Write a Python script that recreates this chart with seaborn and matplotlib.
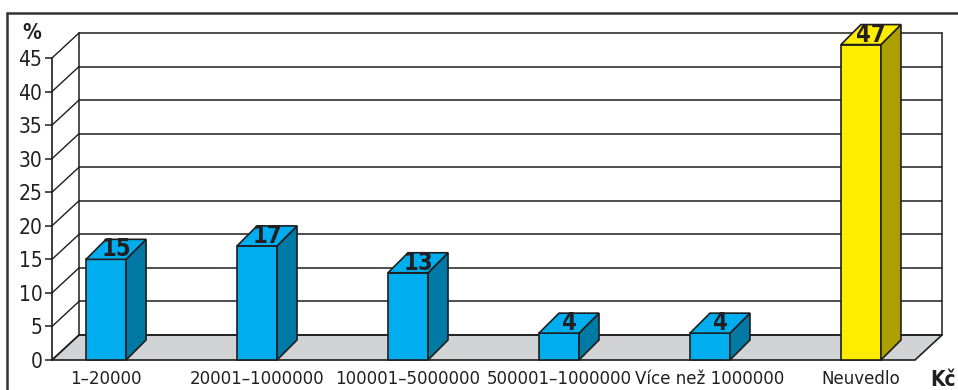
import matplotlib
matplotlib.use("Agg")
import matplotlib.pyplot as plt
from matplotlib import font_manager
import seaborn as sns
import pandas as pd
from matplotlib.transforms import ScaledTranslation
from matplotlib.patches import Polygon
from matplotlib.lines import Line2D

# Income brackets (Kč) and share of respondents (%)
categories = ["1–20000", "20001–1000000", "100001–5000000",
              "500001–1000000", "Více než 1000000", "Neuvedlo"]
values = [15, 17, 13, 4, 4, 47]
front_colors = ["#00aeef"] * 5 + ["#ffed00"]
side_colors = ["#0079a4"] * 5 + ["#ae9f00"]
y_ticks = [0, 5, 10, 15, 20, 25, 30, 35, 40, 45]

sns.set_theme(style="white")

# pick a narrow face if one is installed
entries = font_manager.fontManager.ttflist
names = {f.name for f in entries}
narrow = [f for f in entries if f.stretch in ("condensed", "semi-condensed", 500 - 125, 500 - 250)
          or "Narrow" in f.name or "Condensed" in f.name]
FAMILY, STRETCH = "Roboto", "normal"
if "Liberation Sans Narrow" in names:
    FAMILY, STRETCH = "Liberation Sans Narrow", "normal"
elif narrow:
    FAMILY, STRETCH = narrow[0].name, narrow[0].stretch
plt.rcParams["font.family"] = [FAMILY, "DejaVu Sans"]
plt.rcParams["font.stretch"] = STRETCH
FS = 15 if FAMILY != "Roboto" else 13.5
XFS = 13.3 if FAMILY != "Roboto" else 12
LAB_FS = 17 if FAMILY != "Roboto" else 15

DPI = 100
W, H = 958, 390
INK = "#1e1e1e"
TXT = "#231f20"
fig = plt.figure(figsize=(W / DPI, H / DPI), dpi=DPI)
fig.patch.set_facecolor("white")
ax = fig.add_axes([52 / W, 30 / H, 863 / W, 302 / H])

df = pd.DataFrame({"cat": categories, "val": values})
sns.barplot(data=df, x="cat", y="val", hue="cat", palette=front_colors,
            legend=False, width=0.265, saturation=1, edgecolor=INK,
            linewidth=1.2, ax=ax, zorder=5)

XMIN, XMAX = -0.358, 5.358
ax.set_xlim(XMIN, XMAX)
ax.set_ylim(0, 45)
ax.set_xlabel("")
ax.set_ylabel("")
ax.set_facecolor("none")

# depth offsets in pixels: back wall and bar thickness
WALL = (27, 25)
DEPTH = (20, 20)


def to_data(px, py):
    return ax.transData.inverted().transform((px, py))


def shifted(x, y, off):
    px, py = ax.transData.transform((x, y))
    return to_data(px + off[0], py + off[1])


# floor
floor = [(XMIN, 0), (XMAX, 0), tuple(shifted(XMAX, 0, WALL)), tuple(shifted(XMIN, 0, WALL))]
ax.add_patch(Polygon(floor, closed=True, facecolor="#d1d3d5", edgecolor=INK,
                     linewidth=1.2, clip_on=False, zorder=1))

# back wall gridlines, side edges and diagonals to the front axis
for t in y_ticks:
    a = shifted(XMIN, t, WALL)
    b = shifted(XMAX, t, WALL)
    ax.add_line(Line2D([a[0], b[0]], [a[1], b[1]], color=INK, lw=1.1,
                       clip_on=False, zorder=1.5))
    ax.add_line(Line2D([XMIN, a[0]], [t, a[1]], color=INK, lw=1.0,
                       clip_on=False, zorder=1.5))
for xe in (XMIN, XMAX):
    a = shifted(xe, 0, WALL)
    b = shifted(xe, 45, WALL)
    ax.add_line(Line2D([a[0], b[0]], [a[1], b[1]], color=INK, lw=1.1,
                       clip_on=False, zorder=1.5))

# 3D faces of the bars and value labels
bars = [p for c in ax.containers for p in c]
bars.sort(key=lambda p: p.get_x())
for i, p in enumerate(bars):
    p.set_clip_on(False)
    x0, w, h = p.get_x(), p.get_width(), p.get_height()
    x1 = x0 + w
    side = [(x1, 0), tuple(shifted(x1, 0, DEPTH)), tuple(shifted(x1, h, DEPTH)), (x1, h)]
    top = [(x0, h), (x1, h), tuple(shifted(x1, h, DEPTH)), tuple(shifted(x0, h, DEPTH))]
    ax.add_patch(Polygon(side, closed=True, facecolor=side_colors[i], edgecolor=INK,
                         linewidth=1.2, clip_on=False, zorder=5))
    ax.add_patch(Polygon(top, closed=True, facecolor=front_colors[i], edgecolor=INK,
                         linewidth=1.2, clip_on=False, zorder=5))
    lab = ax.transData + ScaledTranslation(DEPTH[0] / 2 / DPI, DEPTH[1] / 2 / DPI,
                                           fig.dpi_scale_trans)
    ax.text(x0 + w / 2, values[i], str(values[i]), transform=lab, ha="center",
            va="center", fontsize=LAB_FS, fontweight="bold", color=TXT,
            zorder=7, clip_on=False)

# axes styling
for s in ("top", "right", "bottom"):
    ax.spines[s].set_visible(False)
ax.spines["left"].set_color(INK)
ax.spines["left"].set_linewidth(1.2)
ax.spines["left"].set_zorder(2)
ax.set_yticks(y_ticks)
ax.tick_params(axis="y", left=True, length=5, width=1.1, color=INK,
               labelsize=FS, pad=2, labelcolor=TXT)
ax.tick_params(axis="x", bottom=False, length=0, labelsize=XFS, pad=7,
               labelcolor=TXT)

fig.text(32 / W, 1 - 33 / H, "%", ha="center", va="center", fontsize=FS,
         fontweight="bold", color=TXT)
fig.text(943 / W, 1 - 380 / H, "Kč", ha="center", va="center", fontsize=FS,
         fontweight="bold", color=TXT)

# outer frame
fig.add_artist(Line2D([7 / W, 7 / W], [0, 1 - 13 / H], color="#333333", lw=1.8,
                      transform=fig.transFigure))
fig.add_artist(Line2D([7 / W, 1], [1 - 13 / H, 1 - 13 / H], color="#333333", lw=1.8,
                      transform=fig.transFigure))

fig.savefig("out.png", dpi=DPI)
